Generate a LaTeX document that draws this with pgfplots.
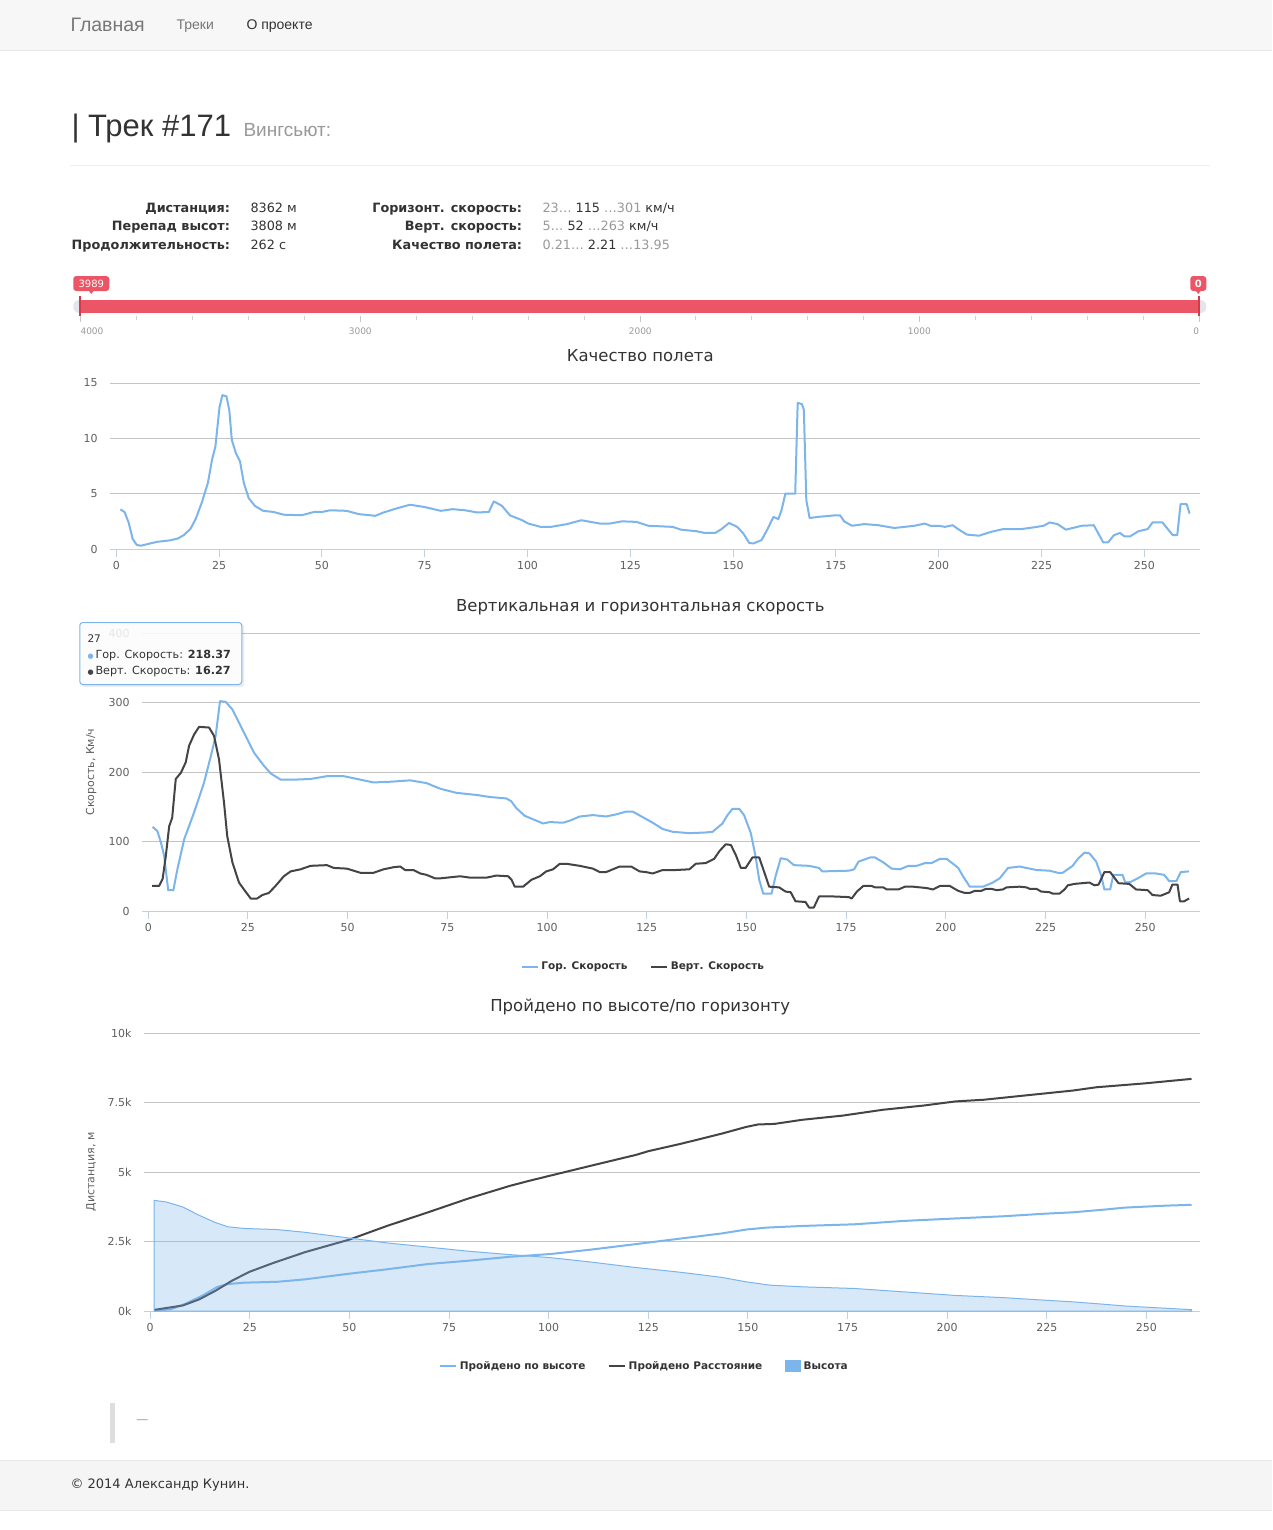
\documentclass[border=0pt]{standalone}
\usepackage{fontspec}
\setmainfont{DejaVu Sans}
\newfontfamily\helv{Liberation Sans}
\usepackage{pgfplots}
\pgfplotsset{compat=1.18}

% sizes are given in screen pixels, 1px = 0.75pt
\newcommand\px[1]{\fontsize{\dimexpr #1pt*3/4\relax}{\dimexpr #1pt*9/10\relax}\selectfont}

\definecolor{hcblue}{HTML}{7CB5EC}
\definecolor{hcdark}{HTML}{434348}
\definecolor{gridc}{HTML}{C4C4C4}
\definecolor{axc}{HTML}{C0D0E0}
\definecolor{lblc}{HTML}{606060}
\definecolor{txt}{HTML}{333333}
\definecolor{gray9}{HTML}{999999}
\definecolor{gray7}{HTML}{777777}
\definecolor{sred}{HTML}{EC5565}
\definecolor{dred}{HTML}{D43A4B}
\definecolor{track}{HTML}{E3E5EA}

\pgfplotsset{
  hc/.style={
    scale only axis, anchor=south west,
    axis x line*=bottom, axis y line*=left,
    x axis line style={draw=axc, line width=0.75pt, -},
    y axis line style={draw=none},
    tick align=outside,
    xtick={0,25,...,250},
    xtick style={draw=axc, line width=0.75pt},
    ytick style={draw=none},
    major tick length=6pt,
    ymajorgrids,
    major grid style={draw=gridc, line width=0.75pt},
    tick label style={font=\px{11}, text=lblc},
    scaled y ticks=false,
    /pgf/number format/assume math mode=true,
    /pgf/number format/1000 sep={},
    every axis y label/.append style={font=\px{11}, text=lblc},
    legend style={draw=none, fill=none, anchor=center, legend columns=-1,
      font=\bfseries\px{10.5}, text=txt,
      /tikz/every even column/.append style={column sep=15pt}},
    legend image code/.code={\draw[##1, line width=1.5pt] (0pt,0pt) -- (12pt,0pt);},
  },
  ln/.style={line width=1.5pt, line join=round},
}

\begin{document}
\begin{tikzpicture}
\begin{scope}[x=0.75pt, y=-0.75pt]
  \fill[white] (0,0) rectangle (1272,1530);
  % nav bar
  \fill[black!3] (0,0) rectangle (1272,50);
  \draw[black!9] (0,50) -- (1272,50);
  \node[anchor=base west, inner sep=0, text=gray7, font=\helv\px{19.5}] at (70,31.5) {Главная};
  \node[anchor=base west, inner sep=0, text=gray7, font=\helv\px{14}] at (176,30) {Треки};
  \node[anchor=base west, inner sep=0, text=txt, font=\helv\px{14}] at (246,30) {О проекте};
  % heading
  \node[anchor=base west, inner sep=0, text=txt, font=\helv\px{31}] at (71,137) {| Трек \#171};
  \node[anchor=base west, inner sep=0, text=gray9, font=\helv\px{19}] at (243,137) {Вингсьют:};
  \draw[black!7] (70,165) -- (1210,165);
  % stats
  \begin{scope}[every node/.style={inner sep=0, text=txt, font=\px{12.8}}]
    \node[anchor=base east] at (230,213) {\bfseries Дистанция:};
    \node[anchor=base east] at (230,231) {\bfseries Перепад высот:};
    \node[anchor=base east] at (230,249) {\bfseries Продолжительность:};
    \node[anchor=base west] at (250,213) {8362 м};
    \node[anchor=base west] at (250,231) {3808 м};
    \node[anchor=base west] at (250,249) {262 с};
    \node[anchor=base east] at (522,213) {\bfseries Горизонт. скорость:};
    \node[anchor=base east] at (522,231) {\bfseries Верт. скорость:};
    \node[anchor=base east] at (522,249) {\bfseries Качество полета:};
    \node[anchor=base west] at (542,213) {\textcolor{gray9}{23…} 115 \textcolor{gray9}{…301} км/ч};
    \node[anchor=base west] at (542,231) {\textcolor{gray9}{5…} 52 \textcolor{gray9}{…263} км/ч};
    \node[anchor=base west] at (542,249) {\textcolor{gray9}{0.21…} 2.21 \textcolor{gray9}{…13.95}};
  \end{scope}
  % range slider
  \fill[track, rounded corners=4.5pt] (73,300) rectangle (1206,313);
  \fill[sred] (80,300) rectangle (1199,313);
  \draw[dred, line width=1.5pt] (80,296) -- (80,316);
  \draw[dred, line width=1.5pt] (1199,296) -- (1199,316);
  \foreach \k in {0,...,20} {\draw[black!18] ({80+55.95*\k},316) -- ({80+55.95*\k},320);}
  \foreach \k in {0,5,...,20} {\draw[black!22] ({80+55.95*\k},316) -- ({80+55.95*\k},322);}
  \begin{scope}[every node/.style={inner sep=0, text=gray9, font=\px{9}}]
    \node[anchor=west] at (80,331) {4000};
    \node at (360,331) {3000};
    \node at (640,331) {2000};
    \node at (919,331) {1000};
    \node at (1196,331) {0};
  \end{scope}
  \fill[sred, rounded corners=2.25pt] (73,276) rectangle (109,291);
  \fill[sred] (88,290) -- (91,294) -- (94,290) -- cycle;
  \node[inner sep=0, text=white, font=\px{10}] at (91,283.5) {3989};
  \fill[sred, rounded corners=2.25pt] (1190,276) rectangle (1206,291);
  \fill[sred] (1195,290) -- (1198,294) -- (1201,290) -- cycle;
  \node[inner sep=0, text=white, font=\bfseries\px{10}] at (1198,283.5) {0};
  % chart titles
  \begin{scope}[every node/.style={inner sep=0, text=txt, font=\px{16.5}}]
    \node[anchor=base] at (640,361) {Качество полета};
    \node[anchor=base] at (640,611) {Вертикальная и горизонтальная скорость};
    \node[anchor=base] at (640,1011) {Пройдено по высоте/по горизонту};
  \end{scope}
  % footer
  \fill[black!13] (110,1403) rectangle (115,1443);
  \node[inner sep=0, text=gray9, font=\px{12}] at (142,1422) {—};
  \fill[black!4] (0,1460) rectangle (1272,1510);
  \draw[black!9] (0,1460) -- (1272,1460);
  \draw[black!9] (0,1510) -- (1272,1510);
  \node[anchor=base west, inner sep=0, text=txt, font=\px{13}] at (70,1488) {© 2014 Александр Кунин.};
  % axis anchors
  \coordinate (A1) at (110,549);
  \coordinate (A2) at (142,911);
  \coordinate (A3) at (144,1311);
\end{scope}

% quality
\begin{axis}[hc, at={(A1)}, width=817.5pt, height=124.5pt,
  xmin=-1.46, xmax=263.6, ymin=0, ymax=15, ytick={0,5,10,15}]
\addplot[hcblue, ln] coordinates {
(1,3.58)(2,3.35)(3,2.4)(4,0.9)(5,0.36)(6,0.3)(8,0.48)(10,0.65)(13,0.78)(15,0.95)
(16.4,1.25)(18,1.8)(19.3,2.7)(20.8,4.2)(22.3,6)(23.3,8.1)(24.1,9.25)(25.1,12.8)
(25.8,13.9)(26.8,13.8)(27.5,12.5)(28.1,9.85)(29.1,8.65)(30.1,7.9)(31,6)(32.2,4.6)
(33.7,3.9)(35.7,3.45)(38.2,3.35)(40.7,3.1)(45.1,3.05)(48.1,3.35)(50.1,3.35)(52,3.5)
(56,3.45)(59,3.15)(63,3.0)(65,3.3)(68,3.65)(71.4,4.0)(74.9,3.8)(78.9,3.45)(81.8,3.6)
(84.8,3.5)(87.8,3.3)(90.6,3.35)(91.8,4.3)(93.8,3.9)(95.7,3.05)(98.7,2.6)(100.2,2.3)
(103.2,2.0)(105.7,2.0)(109.6,2.25)(113.1,2.6)(117.6,2.3)(120,2.3)(123,2.5)(126.5,2.45)
(129.4,2.1)(135.3,2.0)(137.3,1.75)(141.2,1.6)(143.1,1.45)(145.6,1.45)(147,1.75)
(149,2.35)(151,2.0)(152.5,1.4)(153.9,0.55)(154.9,0.5)(156.9,0.8)(158.3,1.75)(159.8,2.9)
(161,2.7)(161.8,3.55)(162.7,5.0)(165.1,5.0)(165.7,13.2)(166.7,13.1)(167.2,12.6)
(167.8,4.4)(168.6,2.8)(170.6,2.9)(175,3.05)(176,3.05)(177,2.5)(178.9,2.1)(181.9,2.25)
(185.3,2.15)(189.2,1.9)(194.1,2.1)(196.6,2.3)(198,2.1)(200,2.1)(201.5,2.0)(203.4,2.15)
(204.9,1.75)(206.9,1.3)(209.8,1.2)(212.7,1.55)(215.7,1.8)(220.1,1.8)(223,1.95)
(225.5,2.1)(227,2.4)(228.9,2.25)(230.9,1.75)(234.8,2.1)(237.7,2.15)(240,0.6)(241.2,0.6)
(242.6,1.25)(244.1,1.45)(245.1,1.15)(246.6,1.15)(248.5,1.6)(250.8,1.8)(252,2.4)
(254.4,2.4)(256.9,1.25)(258,1.25)(258.8,4.05)(260.3,4.05)(261,3.2)};
\end{axis}

% speeds
\begin{axis}[hc, at={(A2)}, width=793.5pt, height=208.5pt,
  xmin=-1.5, xmax=263.8, ymin=0, ymax=400, ytick={0,100,200,300,400},
  ylabel={Скорость, Км/ч}, ylabel style={at={(axis description cs:-0.0482,0.5)}, anchor=center},
  legend style={at={(0.474,-0.2014)}}]
\addplot[hcblue, ln] coordinates {
(1.1,121)(2.3,115)(3.2,98)(4,79)(5,30)(6.3,30)(7.3,60)(9,103)(11.5,142)(14,185)
(15.7,223)(16.9,252)(18,302)(19.4,301)(21.1,290)(23.2,266)(26.5,228)(29,209)(30.7,198)
(33.2,189)(36.5,189)(40.7,190)(44.8,194)(49,194)(53.2,189)(56.5,185)(60.7,186)
(65.7,188)(69.8,184)(73.2,176)(77.3,170)(82.3,167)(85.7,164)(89.8,162)(91,158)
(92.3,148)(94.4,137)(96.9,131)(99,126)(100.7,128)(104,127)(105.7,130)(108.2,136)
(111.5,138)(114.8,136)(117.3,139)(119.8,143)(121.5,143)(124,135)(126.5,127)(129,118)
(131.5,114)(135.7,112)(139.8,113)(141.5,114)(144,126)(145.25,138)(146.5,147)(148.2,147)
(149.4,138)(151.1,112)(152.3,78)(153.2,45)(154.2,25)(156.3,25)(157.3,50)(158.6,76)
(160.25,74)(161.9,66)(165.7,65)(168.2,62)(169,57)(175.7,58)(177,60)(178.1,71)(181,77)
(182.25,77)(184.3,70)(186.4,61)(188.5,60)(190.6,65)(192.7,65)(194.75,69)(196.4,69)
(198.5,75)(200.2,75)(201.8,68)(203.1,62)(204.3,50)(206,35)(209.3,35)(211.8,41)
(213.5,47)(215.6,62)(218.5,64)(222.7,59)(226,58)(228.1,55)(229.3,55)(231.8,65)
(233.1,75)(234.75,84)(236,83)(237.7,71)(238.9,52)(239.75,31)(241.2,31)(242,52)
(244.3,52)(245,41)(246.4,42)(248.1,47)(250.2,54)(252.7,54)(254.75,52)(256,43)
(257.8,43)(258.9,56)(261,57)};
\addlegendentry{Гор. Скорость}
\addplot[hcdark, ln] coordinates {
(1,36)(2.7,36)(3.6,46)(4.4,79)(5.25,122)(6,134)(6.9,190)(8.2,199)(9.4,214)(10.25,238)
(11.5,254)(12.75,265)(15.25,264)(16.5,252)(17.75,218)(19,156)(19.8,108)(21.1,70)
(22.75,41)(24,31)(25.7,18)(27.3,18)(28.6,23)(30.25,26)(31.9,36)(34,50)(35.7,57)
(38.2,60)(40.7,65)(44.8,66)(46.5,62)(49.8,61)(53.2,55)(56.5,55)(59,60)(61.5,63)
(63.2,64)(64.4,59)(66.5,59)(68.2,54)(69.8,52)(71.9,47)(73.2,47)(78.2,50)(80.7,48)
(84.8,48)(87.3,51)(90.25,50)(91.1,45)(91.9,35)(94,35)(96.1,45)(98.2,50)(99.8,57)
(101.5,60)(103.2,68)(104.8,68)(108.2,65)(111.5,61)(113.2,56)(114.8,56)(118.2,64)
(121.1,64)(123.2,57)(124.8,56)(126.5,54)(129,59)(132.3,59)(135.7,60)(137.3,68)
(139.8,69)(141.9,75)(143.2,86)(144.8,96)(146.1,95)(147.3,81)(148.6,62)(149.8,62)
(151.5,77)(153.2,77)(154.4,57)(155.7,35)(158.2,34)(159.8,28)(161.1,27)(162.3,14)
(164.8,13)(165.7,5)(166.9,5)(168.2,21)(171.5,21)(175.7,20)(176.4,18)(177.7,28)
(179.3,36)(181.4,36)(182.25,34)(184.3,34)(185.2,31)(188.1,31)(189.75,35)(191.8,35)
(195.2,33)(196.8,31)(198.5,36)(201,36)(203.1,29)(204.75,26)(206,26)(207.25,29)
(208.9,29)(210.1,32)(211.4,32)(212.7,30)(214.3,31)(215.2,34)(218.5,35)(220.2,34)
(221,32)(222.7,32)(223.9,28)(226,27)(226.8,25)(228.5,25)(229.75,31)(230.6,37)
(232.25,39)(236,41)(237.25,37)(238.3,38)(239.75,56)(241.2,56)(243.3,40)(246,39)
(247.7,31)(250.6,30)(251.8,23)(253.9,22)(256,27)(256.8,38)(258.1,38)(258.7,14)
(259.75,14)(261,18)};
\addlegendentry{Верт. Скорость}
\end{axis}

% distances
\begin{axis}[hc, at={(A3)}, width=792pt, height=208.5pt,
  xmin=-1.5, xmax=263.5, ymin=0, ymax=10000, ytick={0,2500,5000,7500,10000},
  yticklabels={0k,2.5k,5k,7.5k,10k},
  ylabel={Дистанция, м}, ylabel style={at={(axis description cs:-0.0502,0.5)}, anchor=center},
  legend style={at={(0.474,-0.198)}}]
\addplot[hcblue, ln] coordinates {
(1,10)(5.1,60)(9.2,280)(13.3,570)(16.9,870)(19.5,970)(23.6,1020)(31.8,1050)(38.9,1140)
(49.2,1330)(59.4,1500)(69.7,1690)(79.9,1810)(90.2,1950)(100.4,2050)(110.7,2210)
(120.9,2390)(133.3,2610)(143.4,2790)(149.5,2930)(154.6,3000)(163.7,3060)(176.8,3120)
(189,3240)(202.1,3330)(214.3,3410)(224.4,3500)(231.5,3550)(239.6,3650)(244.6,3720)
(254.8,3790)(261.3,3820)};
\addlegendentry{Пройдено по высоте}
\addplot[hcdark, ln] coordinates {
(1,40)(4.1,110)(8.2,200)(12.3,420)(16.4,730)(20.5,1090)(24.9,1410)(30.7,1720)
(38.9,2120)(50,2570)(59.4,3060)(69.7,3550)(79.9,4050)(90.2,4500)(95,4680)(100.4,4870)
(110.7,5230)(122,5620)(125,5750)(133.3,6020)(143.4,6380)(149.5,6620)(152.5,6710)
(156.6,6730)(163.7,6880)(173.8,7030)(183.9,7240)(194,7390)(202.1,7540)(209.2,7600)
(219.3,7750)(231.5,7930)(237.5,8050)(249.7,8190)(261.3,8350)};
\addlegendentry{Пройдено Расстояние}
\addplot[draw=hcblue, line width=0.75pt, fill=hcblue, fill opacity=0.3,
  legend image code/.code={\fill[hcblue, fill opacity=1, draw=none] (0pt,-4.5pt) rectangle (12pt,4.5pt);}]
coordinates {
(1,3980)(4.1,3920)(8.2,3740)(12.3,3440)(16.4,3180)(19.5,3030)(23.6,2970)(31.8,2930)
(38.9,2830)(49.2,2640)(59.4,2450)(69.7,2300)(79.9,2150)(90.2,2030)(100.4,1920)
(110.7,1760)(120.9,1580)(133.3,1390)(143.4,1210)(149.5,1050)(155.6,930)(163.7,870)
(176.8,810)(189,690)(202.1,560)(214.3,480)(224.4,390)(231.5,330)(239.6,240)(244.6,180)
(254.8,100)(261.3,50)} \closedcycle;
\addlegendentry{Высота\vphantom{Пройдено}}
\end{axis}

% tooltip over the speed chart
\begin{scope}[x=0.75pt, y=-0.75pt]
  \fill[black, opacity=0.07, rounded corners=2.25pt] (81,624) rectangle (244,687);
  \filldraw[fill=white, fill opacity=0.85, draw=hcblue, line width=0.75pt, rounded corners=2.25pt]
    (79.5,622.5) rectangle (241.5,684.5);
  \node[anchor=base west, inner sep=0, text=txt, font=\px{10.5}] at (87,642) {27};
  \node[anchor=base west, inner sep=0, text=txt, font=\px{11.2}] at (87,658)
    {{\px{7}\textcolor{hcblue}{●}}\,Гор. Скорость: \textbf{218.37}};
  \node[anchor=base west, inner sep=0, text=txt, font=\px{11.2}] at (87,674)
    {{\px{7}\textcolor{hcdark}{●}}\,Верт. Скорость: \textbf{16.27}};
\end{scope}
\end{tikzpicture}
\end{document}
